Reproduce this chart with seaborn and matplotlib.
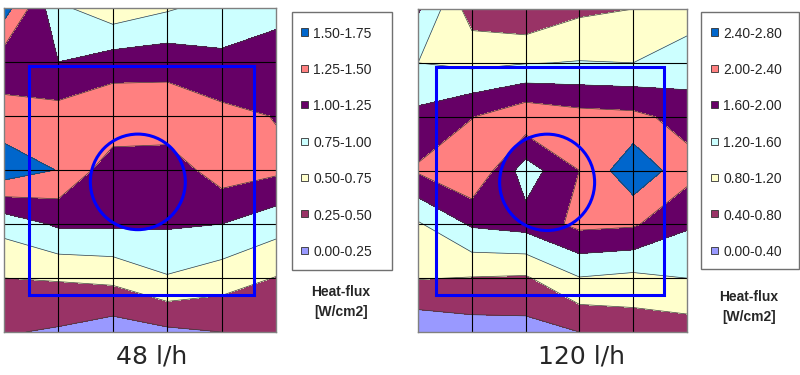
import numpy as np
import matplotlib.pyplot as plt
import seaborn as sns
from matplotlib.patches import Rectangle, Ellipse

sns.set_theme(style='white')
plt.rcParams['font.family'] = ['Liberation Sans', 'DejaVu Sans']

## band edges and labels of the two legends
levels_48 = [0.00, 0.25, 0.50, 0.75, 1.00, 1.25, 1.50, 1.75]
levels_120 = [0.00, 0.40, 0.80, 1.20, 1.60, 2.00, 2.40, 2.80]
labels_48 = ['1.50-1.75', '1.25-1.50', '1.00-1.25', '0.75-1.00', '0.50-0.75', '0.25-0.50', '0.00-0.25']
labels_120 = ['2.40-2.80', '2.00-2.40', '1.60-2.00', '1.20-1.60', '0.80-1.20', '0.40-0.80', '0.00-0.40']
band_colors = ['#9999FF', '#993366', '#FFFFCC', '#CCFFFF', '#660066', '#FF8080', '#0066CC']

## measured heat-flux, rows top -> bottom, columns left -> right
flux_48 = [
    [1.62, 0.80, 0.59, 0.72, 0.85, 0.90],
    [1.10, 1.00, 1.12, 1.15, 1.05, 1.15],
    [1.35, 1.35, 1.45, 1.42, 1.32, 1.24],
    [1.65, 1.49, 1.10, 1.10, 1.38, 1.30],
    [0.84, 1.04, 1.04, 1.03, 1.00, 0.85],
    [0.50, 0.52, 0.56, 0.73, 0.62, 0.49],
    [0.27, 0.22, 0.12, 0.20, 0.25, 0.35],
]
flux_120 = [
    [1.65, 0.60, 0.45, 0.72, 0.80, 1.05],
    [1.20, 1.10, 1.18, 1.22, 1.20, 1.35],
    [1.70, 1.98, 2.30, 2.15, 2.10, 1.85],
    [2.05, 2.39, 1.40, 2.00, 2.70, 2.15],
    [1.15, 1.65, 1.75, 2.10, 2.05, 1.65],
    [0.82, 0.78, 0.75, 1.18, 1.10, 1.20],
    [0.10, 0.22, 0.25, 0.40, 0.55, 0.60],
]

W, H = 800, 375


def fig_box(x0, y0, x1, y1):
    """pixel box (top-left origin) -> figure fraction [left, bottom, width, height]"""
    return [x0 / W, 1 - y1 / H, (x1 - x0) / W, (y1 - y0) / H]


def draw_map(ax, flux, levels, square, circle):
    z = np.array(flux)
    x = np.arange(z.shape[1])
    y = np.arange(z.shape[0])[::-1]
    ax.contourf(x, y, z, levels=levels, colors=band_colors)
    ax.contour(x, y, z, levels=levels[1:-1], colors='#3a3a3a', linewidths=0.5)
    for xv in x[1:-1]:
        ax.axvline(xv, color='black', lw=0.8)
    for yv in y[1:-1]:
        ax.axhline(yv, color='black', lw=0.8)
    ax.set_xlim(x.min(), x.max())
    ax.set_ylim(y.min(), y.max())
    ax.set_xticks([])
    ax.set_yticks([])
    for sp in ax.spines.values():
        sp.set_color('#808080')
        sp.set_linewidth(1)
    # blue outline of the heater and the nozzle
    sx0, sy0, sx1, sy1 = square
    ax.add_patch(Rectangle((sx0, sy0), sx1 - sx0, sy1 - sy0, fill=False,
                           edgecolor='#0000FF', lw=2.2, zorder=5))
    cx, cy, rx, ry = circle
    ax.add_patch(Ellipse((cx, cy), 2 * rx, 2 * ry, fill=False,
                         edgecolor='#0000FF', lw=2.2, zorder=5))


def draw_legend(fig, labels, box, hx, title_xy):
    x0, y0, x1, y1 = box
    fig.patches.append(Rectangle((x0 / W, 1 - y1 / H), (x1 - x0) / W, (y1 - y0) / H,
                                 transform=fig.transFigure, fill=False,
                                 edgecolor='#707070', lw=1))
    ## one row per band, highest band on top
    for i, (lab, col) in enumerate(zip(labels, band_colors[::-1])):
        yc = 32 + i * 36.4
        fig.patches.append(Rectangle((hx / W, 1 - (yc + 3.5) / H), 7 / W, 7 / H,
                                     transform=fig.transFigure, facecolor=col,
                                     edgecolor='#303030', lw=0.6))
        fig.text((hx + 12) / W, 1 - yc / H, lab, ha='left', va='center_baseline', fontsize=10)
    fig.text(title_xy[0] / W, 1 - title_xy[1] / H, 'Heat-flux\n[W/cm2]', ha='center', va='center',
             fontsize=10, fontweight='bold', linespacing=1.5)


fig = plt.figure(figsize=(8, 3.75), dpi=100)
ax1 = fig.add_axes(fig_box(4, 8, 276, 332))
ax2 = fig.add_axes(fig_box(418, 9, 687, 332))

draw_map(ax1, flux_48, levels_48, square=(0.46, 0.69, 4.6, 4.93), circle=(2.46, 2.78, 0.873, 0.885))
draw_map(ax2, flux_120, levels_120, square=(0.335, 0.69, 4.57, 4.93), circle=(2.40, 2.78, 0.883, 0.895))

draw_legend(fig, labels_48, box=(292, 12, 392, 270), hx=301, title_xy=(341, 302))
draw_legend(fig, labels_120, box=(701, 12, 799, 269), hx=711, title_xy=(749, 307))

fig.text(152 / W, 1 - 357 / H, '48 l/h', ha='center', va='center', fontsize=18, family='DejaVu Sans')
fig.text(581 / W, 1 - 357 / H, '120 l/h', ha='center', va='center', fontsize=18, family='DejaVu Sans')

fig.savefig('out.png', dpi=100)
